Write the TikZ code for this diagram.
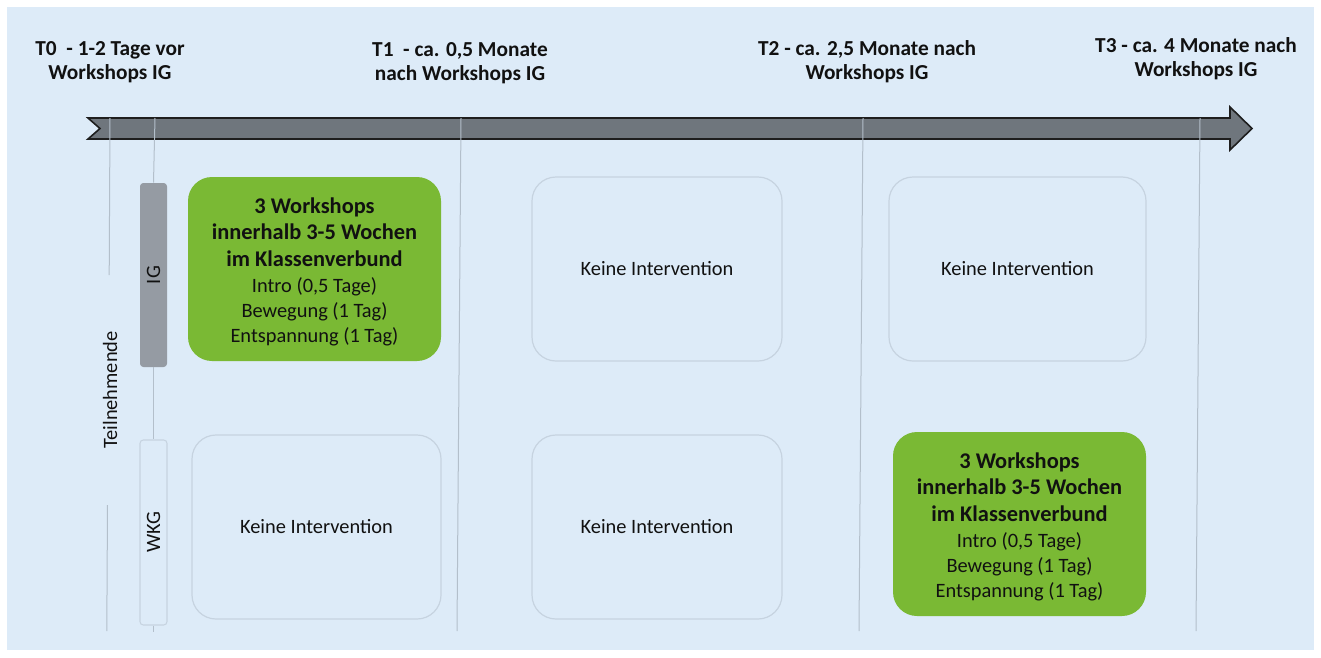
\documentclass[tikz,border=0pt]{standalone}
\usepackage{fontspec}
\setmainfont{Carlito}
\definecolor{bgblue}{HTML}{DDEBF8}
\definecolor{boxline}{HTML}{C6D3E0}
\definecolor{vline}{HTML}{B3BFCB}
\definecolor{wsgreen}{HTML}{7AB934}
\definecolor{arrowfill}{HTML}{6F767D}
\definecolor{arrowline}{HTML}{1E1E1E}
\definecolor{igfill}{HTML}{959BA3}
\definecolor{txt}{HTML}{111111}
\tikzset{
  px/.style={x=0.75pt,y=-0.75pt},
  regfont/.style={font=\fontsize{15.3}{18.8}\selectfont},
  headtxt/.style={align=center,text=txt,font=\fontsize{16}{18}\selectfont\bfseries,inner sep=0pt},
  greenbox/.style={draw=none,fill=wsgreen,rounded corners=18pt,
    minimum width=253*0.75pt,minimum height=184*0.75pt,inner sep=0pt},
  wstext/.style={align=center,text=txt,inner sep=0pt,regfont},
  emptybox/.style={draw=boxline,line width=0.9pt,rounded corners=18pt,align=center,text=txt,
    minimum height=184*0.75pt,inner sep=0pt,regfont},
  grpbar/.style={rounded corners=2.5pt,minimum width=27*0.75pt,minimum height=184*0.75pt,inner sep=0pt},
  vlabel/.style={rotate=90,regfont,text=txt},
  tick/.style={draw=vline,line width=0.75pt},
}
\newcommand{\wsbody}{{\fontsize{16.8}{20}\selectfont\bfseries 3 Workshops}\\[1.1pt]
{\fontsize{16.8}{20}\selectfont\bfseries innerhalb 3-5 Wochen}\\[1.1pt]
{\fontsize{16.8}{20}\selectfont\bfseries im Klassenverbund}\\[0.7pt]
Intro (0,5 Tage)\\Bewegung (1 Tag)\\Entspannung (1 Tag)}
\begin{document}
\begin{tikzpicture}[px]
\useasboundingbox (0,0) rectangle (1321,657);
\fill[white] (0,0) rectangle (1321,657);
\fill[bgblue] (7,7) rectangle (1314,650);

% time arrow
\filldraw[fill=arrowfill,draw=arrowline,line width=1.2pt,line join=miter]
  (88,118) -- (1230,118) -- (1230,107) -- (1252,128.5) -- (1230,150) -- (1230,139)
  -- (88,139) -- (100,128.5) -- cycle;

% header labels
\node[headtxt] (h0) at (110,62) {T0\ \ - 1-2 Tage vor\\Workshops IG};
\node[headtxt] (h1) at (460,63) {T1\ \ - ca. 0,5 Monate\\nach Workshops IG};
\node[headtxt] (h2) at (867,61.5) {T2 - ca. 2,5 Monate nach\\Workshops IG};
\node[headtxt] (h3) at (1196,58.5) {T3 - ca. 4 Monate nach\\Workshops IG};

% group bars
\node[grpbar,fill=igfill] (ig) at (153.5,275) {};
\node[vlabel] (igl) at (ig.center) {IG};
\node[grpbar,fill=bgblue,draw=boxline,line width=0.8pt,minimum height=185*0.75pt] (wkg) at (153.5,532.5) {};
\node[vlabel] (wkgl) at (wkg.center) {WKG};
\node[vlabel] (tn) at (110,390) {Teilnehmende};

% vertical time lines
\draw[tick] (110,118) -- (109.2,275);
\draw[tick] (107.5,505) -- (106.8,631);
\draw[tick] (155,118) -- (ig.north);
\draw[tick] (ig.south) -- (wkg.north);
\draw[tick] (wkg.south) -- ++(0,6);
\draw[tick] (461,118) -- (457,631);
\draw[tick] (863,118) -- (859,631);
\draw[tick] (1200,118) -- (1196,631);

% row 1
\node[greenbox] (w1) at (314.5,269) {};
\node[wstext] (w1t) at (314.5,271.5) {\wsbody};
\node[emptybox,minimum width=250*0.75pt] (k12) at (657,269) {Keine Intervention};
\node[emptybox,minimum width=257*0.75pt] (k13) at (1017.5,269) {Keine Intervention};
% row 2
\node[emptybox,minimum width=249*0.75pt] (k21) at (316.5,527) {Keine Intervention};
\node[emptybox,minimum width=250*0.75pt] (k22) at (657,527) {Keine Intervention};
\node[greenbox] (w2) at (1019.5,524) {};
\node[wstext] (w2t) at (1019.5,526.5) {\wsbody};
\end{tikzpicture}
\end{document}
